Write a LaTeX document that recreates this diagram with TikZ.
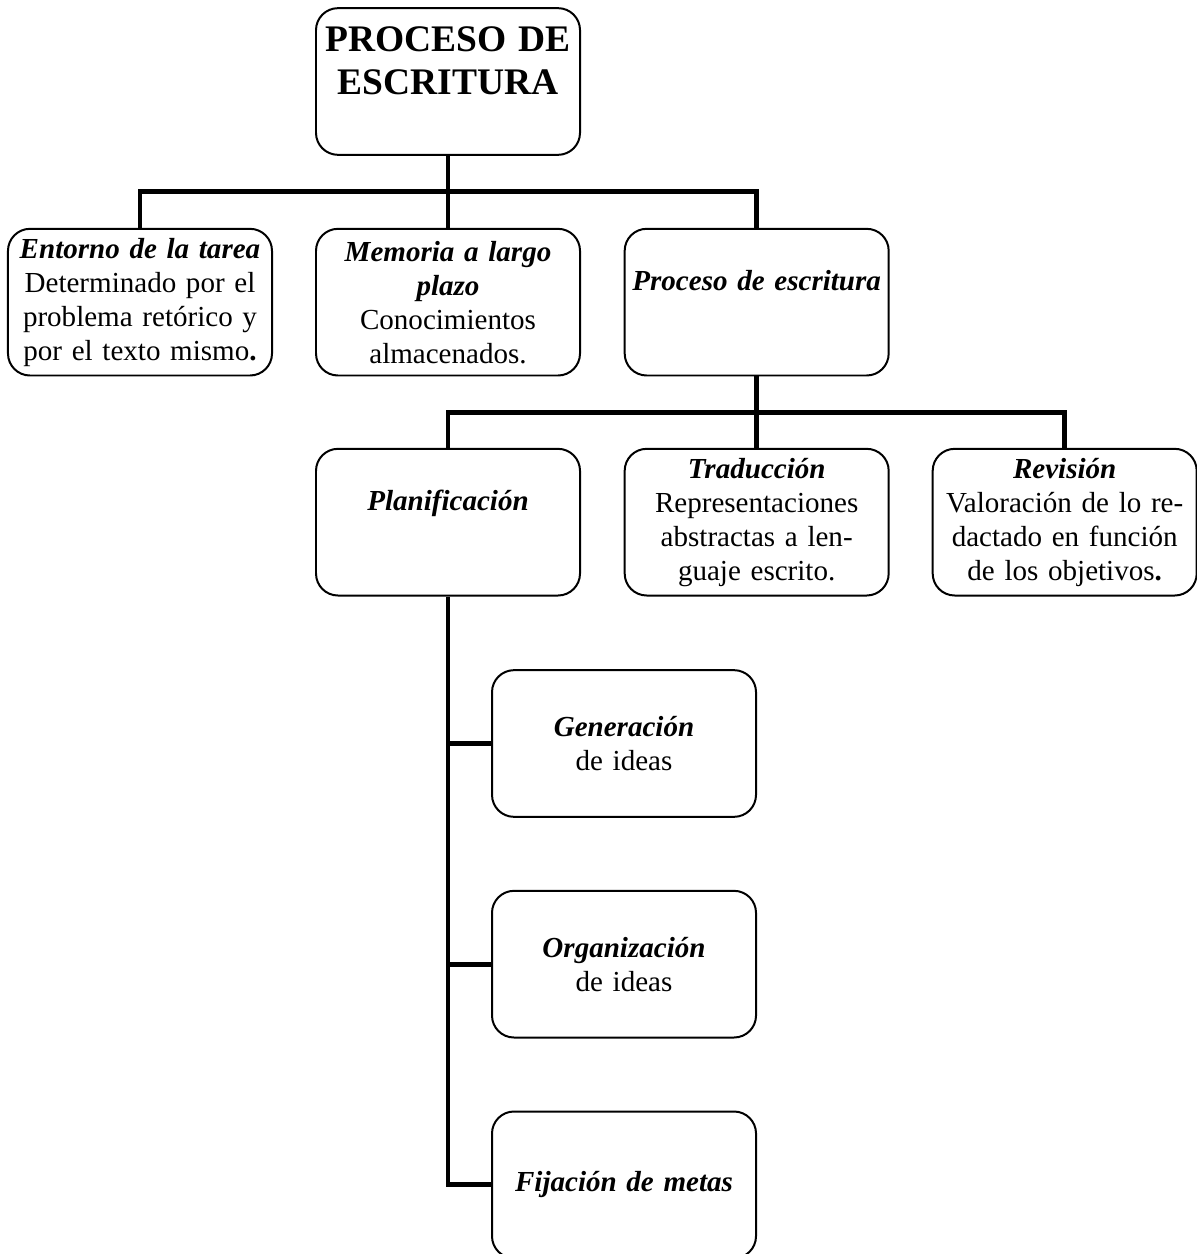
\documentclass[tikz,border=0pt]{standalone}
\usepackage{fontspec}
\setmainfont{Liberation Serif}
\usepackage{tikz}
\usetikzlibrary{positioning, calc}

\begin{document}
\begin{tikzpicture}[x=0.015cm, y=-0.015cm,
    caja/.style={rectangle, draw, line width=0.85pt, rounded corners=0.33cm, minimum width=3.96cm, minimum height=2.2cm, text width=3.8cm, align=center, inner sep=2pt, font=\fontsize{12.4}{14.5}\selectfont},
    enlace/.style={line width=2.1pt}]
\useasboundingbox (0,0) rectangle (1196,1254);

% Nodo principal
\node[caja, font=\fontsize{16}{18.4}\selectfont\bfseries] (titulo) at (448,81.5) {PROCESO DE\\ESCRITURA\\[-0.21cm] \strut};

% Primer nivel
\node[caja, below=1.08cm of titulo] (memoria) {{\bfseries\itshape Memoria a largo}\\{\bfseries\itshape plazo}\\Conocimientos\\almacenados.};
\node[caja, left=0.63cm of memoria] (entorno) {{\bfseries\itshape Entorno de la tarea}\\Determinado por el\\problema retórico y\\por el texto mismo\textbf{.}};
\node[caja, right=0.64cm of memoria] (escritura) {{\bfseries\itshape Proceso de escritura}\\ \strut};

% Segundo nivel
\node[caja, below=1.07cm of memoria] (planif) {{\bfseries\itshape Planificación}\\ \strut};
\node[caja, below=1.07cm of escritura] (traduccion) {{\bfseries\itshape Traducción}\\Representaciones\\abstractas a len-\\guaje escrito.};
\node[caja, right=0.63cm of traduccion] (revision) {{\bfseries\itshape Revisión}\\Valoración de lo re-\\dactado en función\\de los objetivos\textbf{.}};

% Subprocesos de la planificacion
\node[caja, below=1.09cm of planif, xshift=2.64cm] (generacion) {{\bfseries\itshape Generación}\\de ideas};
\node[caja, below=1.08cm of generacion] (organizacion) {{\bfseries\itshape Organización}\\de ideas};
\node[caja, below=1.08cm of organizacion] (fijacion) {{\bfseries\itshape Fijación de metas}};

% Conexiones
\coordinate (b1) at ($(titulo.south)!0.5!(memoria.north)$);
\coordinate (b2) at ($(escritura.south)!0.5!(traduccion.north)$);
\draw[enlace] (titulo.south) -- (memoria.north);
\draw[enlace] (entorno.north) |- (b1) -| (escritura.north);
\draw[enlace] (escritura.south) -- (traduccion.north);
\draw[enlace] (planif.north) |- (b2) -| (revision.north);
\draw[enlace] (planif.south) |- (fijacion.west);
\draw[enlace] (generacion.west) -- (generacion.west -| planif.south);
\draw[enlace] (organizacion.west) -- (organizacion.west -| planif.south);
\end{tikzpicture}
\end{document}
